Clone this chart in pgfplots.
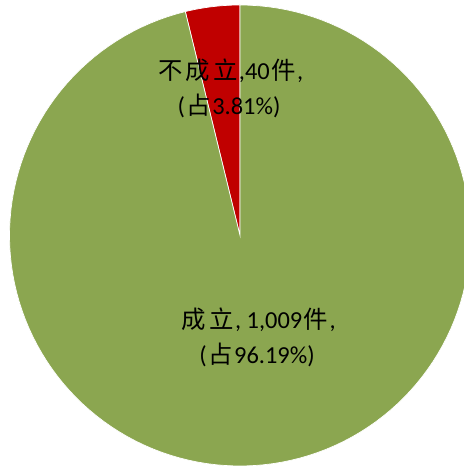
\documentclass[border=0pt]{standalone}
\usepackage{pgfplots}
\pgfplotsset{compat=1.18}
\usepackage{fontspec}
\setmainfont{Carlito}
\newfontfamily\cjk{Noto Sans CJK TC}
\definecolor{pieGreen}{RGB}{139,166,80}
\definecolor{pieRed}{RGB}{192,0,0}
\newcommand{\zh}[1]{\kern1.5bp{\cjk #1}\kern1.5bp}
\begin{document}
\begin{tikzpicture}
% counts of the two categories
\pgfmathsetmacro{\nA}{40}   % 不成立
\pgfmathsetmacro{\nB}{1009} % 成立
\pgfmathsetmacro{\aA}{90+360*\nA/(\nA+\nB)}
\begin{axis}[
    name=ax,
    x=1bp, y=1bp,
    xmin=0, xmax=464, ymin=0, ymax=469,
    scale only axis,
    hide axis,
    clip=true,
]
\addplot[fill=pieRed, draw=white, line width=0.7pt, variable=\t, domain=90:\aA, samples=20]
    ({240+230.5*cos(\t)}, {233.5+230.5*sin(\t)}) -- (axis cs:240,233.5) -- cycle;
\addplot[fill=pieGreen, draw=white, line width=0.7pt, variable=\t, domain=\aA:450, samples=150]
    ({240+230.5*cos(\t)}, {233.5+230.5*sin(\t)}) -- (axis cs:240,233.5) -- cycle;

\tikzset{lbl/.style={anchor=base, inner sep=0pt, font=\fontsize{24.5}{28}\selectfont}}
\node[lbl] at (axis cs:230,389) {\zh{不}\zh{成}\zh{立},40\zh{件},};
\node[lbl] at (axis cs:229,354) {(\zh{占}3.81\%)};
\node[lbl] at (axis cs:258,140) {\zh{成}\zh{立}, 1,009\zh{件},};
\node[lbl] at (axis cs:257,105) {(\zh{占}96.19\%)};
\end{axis}
\path (ax.south west) rectangle (ax.north east);
\end{tikzpicture}
\end{document}
